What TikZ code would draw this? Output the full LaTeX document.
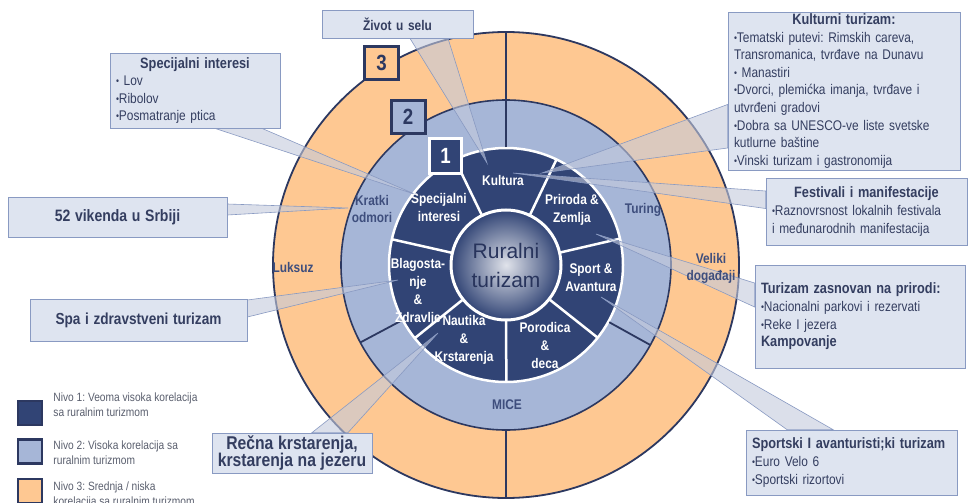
\documentclass[tikz,border=0pt]{standalone}
\usepackage{fontspec}
\setmainfont{Liberation Sans}
\newfontfamily\narrow{Liberation Sans}[FakeStretch=0.85]
\usetikzlibrary{positioning}
\pgfdeclarelayer{background}
\pgfsetlayers{background,main}

\definecolor{navyfill}{RGB}{49,68,117}
\definecolor{lightring}{RGB}{166,182,215}
\definecolor{orangering}{RGB}{254,200,146}
\definecolor{ringline}{RGB}{44,56,96}
\definecolor{ringtext}{RGB}{62,78,125}
\definecolor{boxfill}{RGB}{222,228,240}
\definecolor{boxline}{RGB}{137,154,194}
\definecolor{tailfill}{RGB}{196,202,220}
\definecolor{boxtext}{RGB}{52,62,96}
\definecolor{hubtext}{RGB}{40,52,92}
\definecolor{legendtext}{RGB}{90,95,110}

\frenchspacing
\newcommand\bul{\raisebox{1pt}{\fontsize{10}{10}\selectfont •}}
\newcommand\ttl[1]{\makebox[\linewidth][c]{\bfseries\fontsize{15}{17.6}\selectfont #1}}
\newcommand\hd[1]{{\bfseries\fontsize{15}{17.6}\selectfont #1}}

\begin{document}
\begin{tikzpicture}[x=1pt, y=-1pt,
  box/.style={draw=boxline, fill=boxfill, line width=0.8pt, text=boxtext, inner xsep=6pt, inner ysep=0pt, align=left, font=\narrow\fontsize{14}{17.6}\selectfont},
  tail/.style={draw=boxline, fill=tailfill, fill opacity=0.6, line width=0.6pt},
  seg/.style={text=white, align=center, font=\narrow\bfseries\fontsize{14}{18}\selectfont},
  ringlabel/.style={text=ringtext, align=center, font=\narrow\bfseries\fontsize{14}{17}\selectfont},
  lvbox/.style={draw=ringline, line width=3pt, inner sep=0pt, minimum width=34pt, minimum height=33pt, text=ringline, font=\narrow\bfseries\fontsize{22}{22}\selectfont},
  legsq/.style={draw=ringline, line width=2.5pt, minimum size=24pt, inner sep=0pt},
  legtext/.style={text=legendtext, align=left, inner sep=2pt, font=\narrow\fontsize{12}{15}\selectfont},
  whitesep/.style={white, line width=2.5pt},
  navysep/.style={ringline, line width=1.8pt}]
  \useasboundingbox (0,0) rectangle (978,503);
  \coordinate (c) at (506,265);

  \node[circle, minimum size=110pt, inner sep=0pt, draw=white, line width=3pt, inner color=white!85!navyfill, outer color=navyfill, text=hubtext, align=center, font=\fontsize{21}{29}\selectfont] (hub) at (c) {Ruralni\\turizam};

  \node[seg] (kultura) at (503,180) {Kultura};
  \node[seg] (specijalni) at (439,207) {Specijalni\\interesi};
  \node[seg] (priroda) at (572,210) {Priroda \&\\Zemlja};
  \node[seg] (sportav) at (591,278) {Sport \&\\Avantura};
  \node[seg] (porodica) at (545,345) {Porodica\\\&\\deca};
  \node[seg] (nautika) at (464,340) {Nautika\\\&\\Krstarenja};
  \node[seg] (blago) at (418,292) {Blagosta-\\nje\\\&\\Zdravlje};

  \node[ringlabel] (kratki) at (372,209) {Kratki\\odmori};
  \node[ringlabel] (turing) at (643,210) {Turing};
  \node[ringlabel] (mice) at (507,405) {MICE};
  \node[ringlabel] (luksuz) at (293,267) {Luksuz};
  \node[ringlabel] (veliki) at (711,268) {Veliki\\događaji};

  \node[lvbox, fill=orangering] (lv3) at (381.5,63) {3};
  \node[lvbox, fill=lightring] (lv2) at (408,117) {2};
  \node[lvbox, fill=navyfill, draw=white, text=white, minimum width=32pt, minimum height=35pt] (lv1) at (445.5,156) {1};

  \node[box, text width=139pt, minimum height=28pt, align=center] (zivot) at (397.5,24) {\bfseries\fontsize{14}{17}\selectfont Život u selu};
  \node[box, text width=158pt, minimum height=75pt] (spec) at (195,90.5) {\ttl{Specijalni interesi}\\\bul\ Lov\\\bul Ribolov\\\bul Posmatranje ptica};
  \node[box, text width=207pt, minimum height=40pt, align=center] (vikend) at (117.5,217) {\bfseries\fontsize{16.5}{18}\selectfont 52 vikenda u Srbiji};
  \node[box, text width=205pt, minimum height=42pt, align=center] (spa) at (138.5,320) {\bfseries\fontsize{16}{18}\selectfont Spa i zdravstveni turizam};
  \node[box, text width=156pt, inner xsep=2pt, minimum height=40pt, align=center] (recna) at (292,453) {\bfseries\fontsize{18.5}{19}\selectfont Rečna krstarenja,\\krstarenja na jezeru};
  \node[box, text width=220pt, minimum height=158pt] (kult) at (844,91) {\ttl{Kulturni turizam:}\\\bul Tematski putevi: Rimskih careva,\\Transromanica, tvrđave na Dunavu\\\bul\ Manastiri\\\bul Dvorci, plemićka imanja, tvrđave i\\utvrđeni gradovi\\\bul Dobra sa UNESCO-ve liste svetske\\kutlurne baštine\\\bul Vinski turizam i gastronomija};
  \node[box, text width=189pt, minimum height=67pt] (fest) at (866.5,211.5) {\ttl{Festivali i manifestacije}\\\bul Raznovrsnost lokalnih festivala\\i međunarodnih manifestacija};
  \node[box, text width=198pt, minimum height=103pt] (prir) at (860,316.5) {\hd{Turizam zasnovan na prirodi:}\\\bul Nacionalni parkovi i rezervati\\\bul Reke I jezera\\\hd{Kampovanje}};
  \node[box, text width=199pt, minimum height=65pt] (sport) at (851.5,462.5) {\hd{Sportski I avanturisti;ki turizam}\\\bul Euro Velo 6\\\bul Sportski rizortovi};

  \node[legsq, fill=navyfill] (leg1) at (30,413) {};
  \node[legsq, fill=lightring] (leg2) at (30,451.5) {};
  \node[legsq, fill=orangering] (leg3) at (30,491) {};
  \node[legtext, right=8pt of leg1, yshift=8.5pt] (leg1t) {Nivo 1: Veoma visoka korelacija\\sa ruralnim turizmom};
  \node[legtext, right=8pt of leg2, yshift=-1pt] (leg2t) {Nivo 2: Visoka korelacija sa\\ruralnim turizmom};
  \node[legtext, right=8pt of leg3, yshift=-3.5pt] (leg3t) {Nivo 3: Srednja / niska\\korelacija sa ruralnim turizmom};

  \coordinate (pZivot) at (487,163);
  \coordinate (pSpec) at (417,195);
  \coordinate (pVikend) at (348,208);
  \coordinate (pSpa) at (398,280);
  \coordinate (pRecna) at (438,333);
  \coordinate (pKult) at (542,173);
  \coordinate (pFest) at (513,173);
  \coordinate (pPrir) at (596,234);
  \coordinate (pSport) at (601,297);

  \begin{pgfonlayer}{background}
    \fill[white] (0,0) rectangle (978,503);
    \filldraw[fill=orangering, draw=ringline, line width=1.8pt] (c) circle[radius=233pt];
    \filldraw[fill=lightring, draw=ringline, line width=1.6pt] (c) circle[radius=165pt];
    \filldraw[fill=navyfill, draw=white, line width=2.5pt] (c) circle[radius=117pt];
    \foreach \ang in {90,270}
      \draw[navysep] ([shift={(\ang:165pt)}]c) -- ([shift={(\ang:233pt)}]c);
    \foreach \ang in {90,208,331}
      \draw[navysep] ([shift={(\ang:118pt)}]c) -- ([shift={(\ang:165pt)}]c);
    \foreach \i in {0,...,6}
      \draw[whitesep] ([shift={(13+51.43*\i:56pt)}]c) -- ([shift={(13+51.43*\i:117pt)}]c);

    \filldraw[tail] ([xshift=12.5pt]zivot.south) -- ([xshift=50.5pt]zivot.south) -- (pZivot) -- cycle;
    \filldraw[tail] ([xshift=20pt]spec.south) -- ([xshift=67pt]spec.south) -- (pSpec) -- cycle;
    \filldraw[tail] ([yshift=13pt]vikend.east) -- ([yshift=2pt]vikend.east) -- (pVikend) -- cycle;
    \filldraw[tail] ([yshift=20pt]spa.east) -- ([yshift=3pt]spa.east) -- (pSpa) -- cycle;
    \filldraw[tail] ([xshift=20pt]recna.north) -- ([xshift=56pt]recna.north) -- (pRecna) -- cycle;
    \filldraw[tail] ([yshift=-13.5pt]kult.west) -- ([yshift=-57pt]kult.west) -- (pKult) -- cycle;
    \filldraw[tail] ([yshift=20.5pt]fest.west) -- ([yshift=3pt]fest.west) -- (pFest) -- cycle;
    \filldraw[tail] ([yshift=33.5pt]prir.west) -- ([yshift=9.5pt]prir.west) -- (pPrir) -- cycle;
    \filldraw[tail] ([xshift=-64.5pt]sport.north) -- ([xshift=-18.5pt]sport.north) -- (pSport) -- cycle;
  \end{pgfonlayer}
\end{tikzpicture}
\end{document}
